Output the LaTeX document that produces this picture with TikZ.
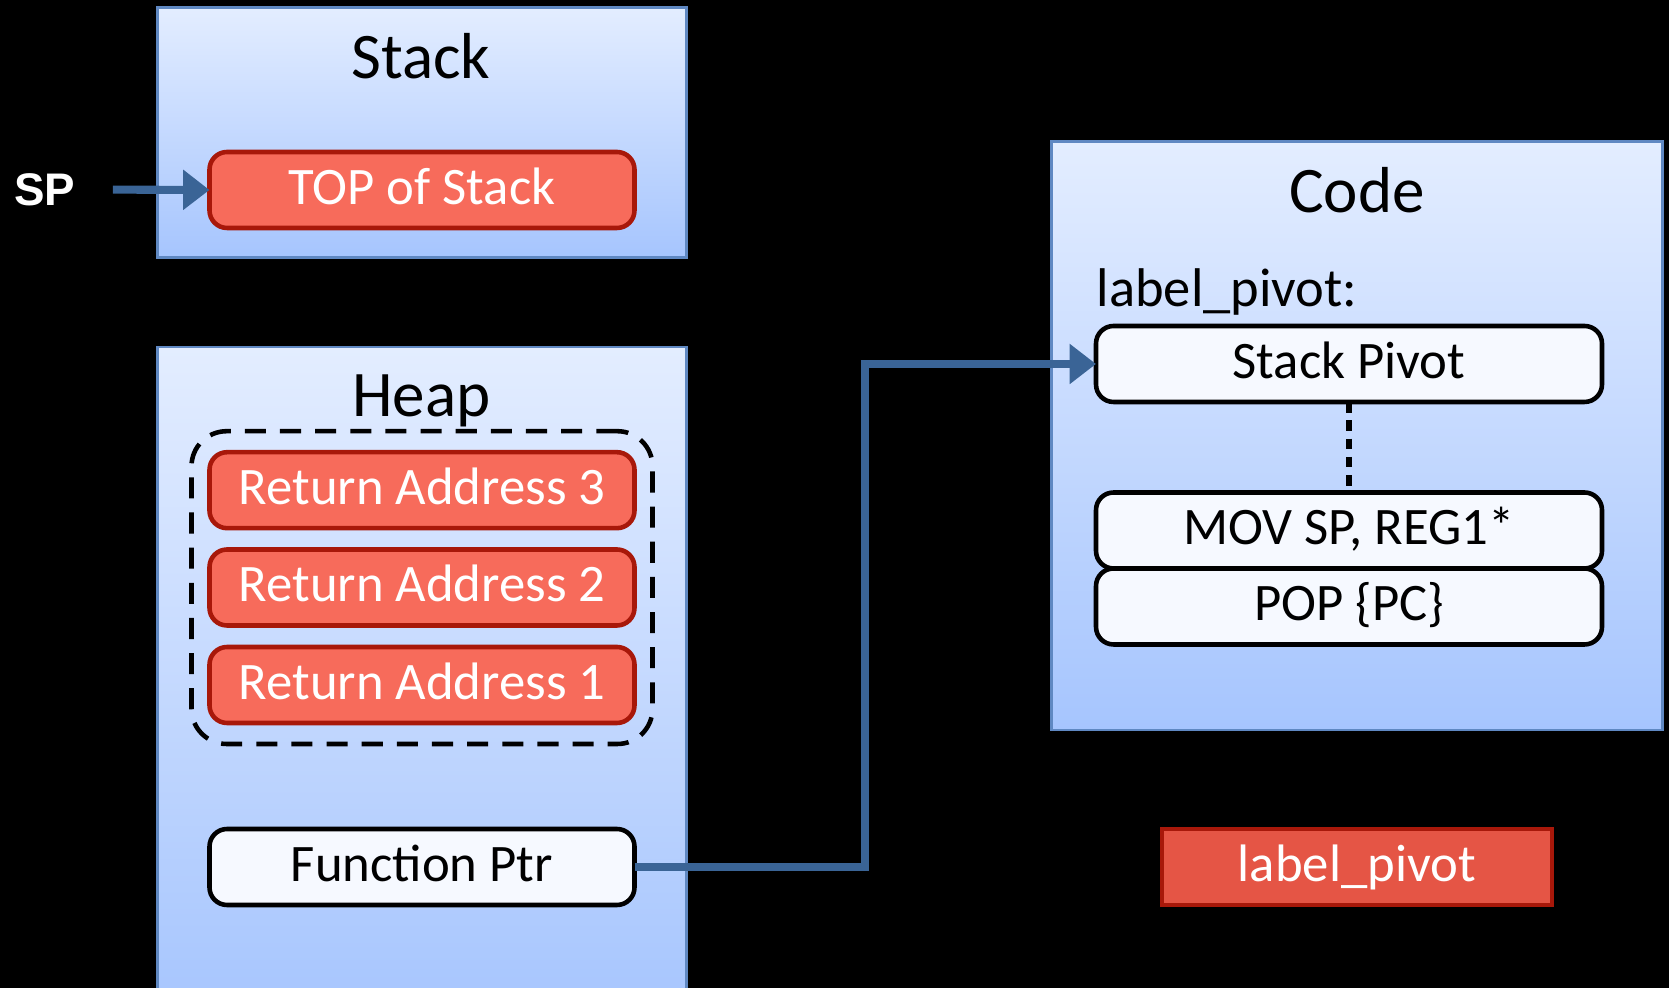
\documentclass[tikz,border=0pt]{standalone}
\usepackage{fontspec}
\setmainfont{Carlito}
\newfontfamily\spfont{Liberation Sans}
\usepackage{xcolor}
\usetikzlibrary{arrows.meta,positioning,fit,backgrounds,calc}
\definecolor{memtop}{HTML}{E3EDFF}
\definecolor{membot}{HTML}{A6C5FE}
\definecolor{memedge}{HTML}{5F88C2}
\definecolor{slotred}{HTML}{F76B5B}
\definecolor{slotedge}{HTML}{A8180A}
\definecolor{labelred}{HTML}{E55545}
\definecolor{slotwhite}{HTML}{F6F9FF}
\definecolor{wireblue}{HTML}{3A6496}

\tikzset{
  region/.style={draw=memedge, line width=0.7pt, top color=memtop, bottom color=membot},
  regtitle/.style={anchor=base, font=\fontsize{18.5}{22}\selectfont, text=black},
  redslot/.style={draw=slotedge, fill=slotred, line width=1.3pt, rounded corners=5pt,
    minimum width=4.25cm, minimum height=0.76cm, inner sep=0pt, outer sep=0pt, text=white,
    text height=0.92em, text depth=0.12em, font=\fontsize{15}{18}\selectfont},
  whiteslot/.style={redslot, draw=black, fill=slotwhite, text=black},
  codeslot/.style={whiteslot, minimum width=5.06cm},
  wire/.style={draw=wireblue, line width=2.3pt, -{Triangle[length=7.5pt,width=11pt]}},
}

\begin{document}
\begin{tikzpicture}[x=1cm,y=1cm]
  \fill[black] (0,0) rectangle (16.69,9.88);
  \useasboundingbox (0,0) rectangle (16.69,9.88);

  % memory regions
  \draw[region] (1.575,7.304) rectangle (6.865,9.805);
  \draw[region] (1.575,-0.3) rectangle (6.865,6.41);
  \draw[region] (10.516,2.58) rectangle (16.626,8.464);

  \node[regtitle] (stacktitle) at (4.21,9.09) {Stack};
  \node[regtitle] (heaptitle) at (4.215,5.71) {Heap};
  \node[regtitle] (codetitle) at (13.57,7.75) {Code};

  % stack
  \node[redslot] (top) at (4.22,7.98) {TOP of Stack};
  \node[inner sep=0pt, text=white, font=\spfont\bfseries\fontsize{13}{16}\selectfont] (sp) at (0.447,7.985) {SP};
  \draw[wire, shorten <=0.37cm] (sp.east) -- (top.west);

  % heap
  \node[redslot] (ra3) at (4.22,4.978) {Return Address 3};
  \node[redslot] (ra2) at (4.22,4.005) {Return Address 2};
  \node[redslot] (ra1) at (4.22,3.03) {Return Address 1};
  \node[draw=black, line width=1.3pt, dash pattern=on 6pt off 4pt, rounded corners=10pt,
    inner xsep=0.18cm, inner ysep=0.21cm, fit=(ra3)(ra1)] (chain) {};
  \node[whiteslot] (fptr) at (4.22,1.21) {Function Ptr};

  % code
  \node[codeslot] (pivot) at (13.49,6.24) {Stack Pivot};
  \node[anchor=base west, inner sep=0pt, font=\fontsize{15.5}{18}\selectfont, text=black] (lbl) at ([yshift=0.19cm]pivot.north west) {label\_pivot:};
  \node[codeslot] (mov) at (13.49,4.575) {MOV SP, REG1*};
  \node[codeslot, below=0pt of mov] (pop) {POP \{PC\}};
  \draw[black, line width=1.6pt, dash pattern=on 3pt off 2.2pt] (pivot.south) -- (mov.north);

  \node[redslot, rounded corners=0pt, fill=labelred, minimum width=3.9cm] (target) at (13.57,1.21) {label\_pivot};

  \coordinate (bend) at (8.654,1.21);
  \draw[wire] (fptr.east) -- (bend) |- (pivot.west);
\end{tikzpicture}
\end{document}
